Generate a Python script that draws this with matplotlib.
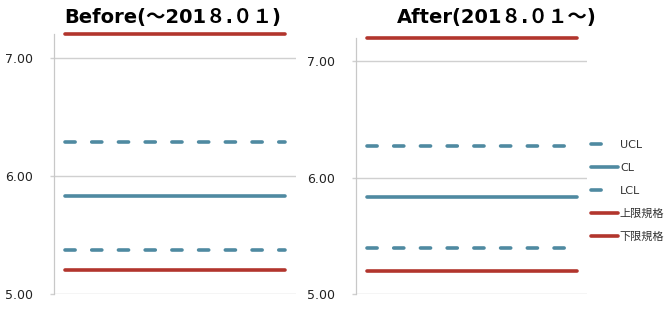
import numpy as np
import matplotlib
matplotlib.use('Agg')
import matplotlib.pyplot as plt
from matplotlib.lines import Line2D

plt.rcParams['font.family'] = ['DejaVu Sans', 'Noto Sans CJK JP']

# control limits
months = np.arange(9)
before = {'UCL': 6.29, 'CL': 5.83, 'LCL': 5.37, 'USL': 7.20, 'LSL': 5.20}
after = {'UCL': 6.27, 'CL': 5.83, 'LCL': 5.40, 'USL': 7.20, 'LSL': 5.20}
titles = ['Before(～201８.０１)', 'After(201８.０１～)']
legend_labels = ['UCL', 'CL', 'LCL', '上限規格', '下限規格']
yticks = [5.0, 6.0, 7.0]

teal = '#4f8aa1'
red = '#b2352d'
grid_c = '#d0d0d0'
dash = (2.8, 4.6)

fig = plt.figure(figsize=(6.7, 3.13), dpi=100)
W, H = 670, 313


def px_axes(x0, x1, ytop, ybot):
    return fig.add_axes([x0 / W, (H - ybot) / H, (x1 - x0) / W, (ybot - ytop) / H])


ax_l = px_axes(54, 296, 34.4, 294)
ax_r = px_axes(356, 587, 37.7, 294.3)

styles = {
    'UCL': dict(color=teal, dashes=dash),
    'CL': dict(color=teal),
    'LCL': dict(color=teal, dashes=dash),
    'USL': dict(color=red),
    'LSL': dict(color=red),
}

for ax, data in [(ax_l, before), (ax_r, after)]:
    for key in ['UCL', 'CL', 'LCL', 'USL', 'LSL']:
        ax.plot(months, np.full(len(months), data[key]), lw=2.6,
                solid_capstyle='round', dash_capstyle='round',
                clip_on=False, **styles[key])
    ax.set_xlim(-0.4, len(months) - 1 + 0.4)
    ax.set_ylim(5.0, 7.2)
    ax.set_yticks(yticks)
    ax.set_yticklabels([f'{v:.2f}' for v in yticks], family='DejaVu Sans', fontsize=9)
    ax.yaxis.grid(True, color=grid_c, lw=1.0)
    ax.set_axisbelow(True)
    ax.set_xticks([])
    for s in ['top', 'right', 'bottom']:
        ax.spines[s].set_visible(False)
    ax.spines['left'].set_color('#c8c8c8')
    ax.spines['left'].set_linewidth(0.9)
    ax.tick_params(axis='y', length=3, width=1.0, color=grid_c, pad=12, labelcolor='#222222')

fig.text(173 / W, (H - 18) / H, titles[0], ha='center', va='center',
         fontsize=14, fontweight='bold')
fig.text(497 / W, (H - 18) / H, titles[1], ha='center', va='center',
         fontsize=14, fontweight='bold')

leg_dash = (2.8, 8)
handles = [
    Line2D([], [], color=teal, lw=2.6, dashes=leg_dash, dash_capstyle='round'),
    Line2D([], [], color=teal, lw=2.6, solid_capstyle='round'),
    Line2D([], [], color=teal, lw=2.6, dashes=leg_dash, dash_capstyle='round'),
    Line2D([], [], color=red, lw=2.6, solid_capstyle='round'),
    Line2D([], [], color=red, lw=2.6, solid_capstyle='round'),
]
fig.legend(handles, legend_labels, loc='upper left', bbox_to_anchor=(591 / W, (H - 140) / H),
           frameon=False, fontsize=8, handlelength=2.4, handletextpad=0.2,
           labelspacing=1.15, borderpad=0, borderaxespad=0, labelcolor='#333333')

fig.savefig('out.png', dpi=100)
